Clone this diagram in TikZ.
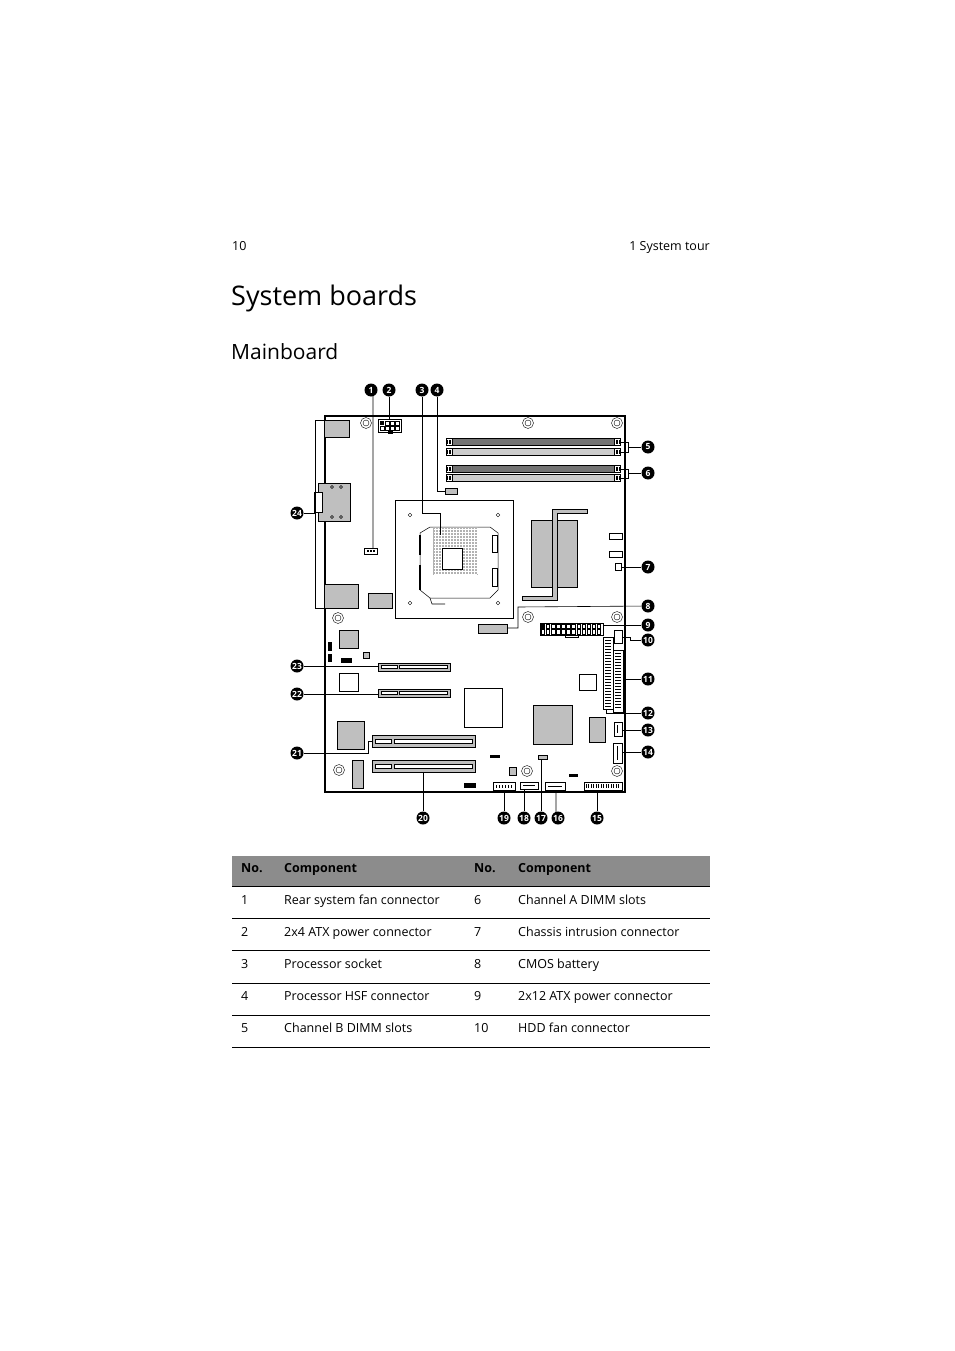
\documentclass[tikz,border=0pt]{standalone}
\usepackage{fontspec}
\setmainfont{Open Sans}
\begin{document}
\begin{tikzpicture}[x=1pt,y=-1pt,
 co/.style={circle,fill=black,text=white,inner sep=0pt,minimum size=13pt,font=\bfseries\fontsize{8.5}{9}\selectfont},
 gb/.style={draw=black,line width=0.5pt,fill=black!25},
 wb/.style={draw=black,line width=0.5pt,fill=white},
 kb/.style={fill=black},
 ld/.style={line width=0.6pt},
 hole/.style={draw,line width=0.4pt},
 tx/.style={anchor=base west,inner sep=0pt,font=\fontsize{12.5}{14}\selectfont},
 th/.style={anchor=base west,inner sep=0pt,font=\bfseries\fontsize{12.5}{14}\selectfont}]
\useasboundingbox (0,0) rectangle (954,1351);
% header
\node[tx] (pg) at (232,250) {10};
\node[tx,anchor=base east] (ch) at (710,250) {1 System tour};
\node[anchor=base west,inner sep=0pt,font=\fontsize{27}{30}\selectfont] (t1) at (231,305) {System boards};
\node[anchor=base west,inner sep=0pt,font=\fontsize{21}{24}\selectfont] (t2) at (231,359) {Mainboard};
% board outline
\draw[line width=1.6pt] (325,416) -- (625,416) -- (625,792) -- (325,792) -- cycle;
% holes
\foreach \x/\y in {366/423,528/423,617/423,338/618,528/617,617/617,339/770,527/771,617/771}{
 \draw[hole] (\x,\y) circle (5.5); \draw[hole] (\x,\y) circle (3);}
% left I/O
\fill[gb] (324,420) rectangle (349,437);
\draw[gb] (318,483) rectangle (350,521);
\draw[wb] (314,492) rectangle (322,512);
\foreach \x in {332,341}{\draw[hole] (\x,487) circle (1.5); \draw[hole] (\x,517) circle (1.5);}
\draw[gb] (324,584) rectangle (358,608);
\draw[gb] (368,593) rectangle (392,608);
% atx 2x4
\draw[wb] (378,419) rectangle (401,432);
\fill (380,421) rectangle (384,425);
\foreach \x in {385,390,395}{\draw (\x,421) rectangle (\x+4,425);}
\foreach \x in {380,385,390,395}{\draw (\x,426) rectangle (\x+4,430);}
\fill (388,431) rectangle (393,434);
% DIMM
\foreach \y/\c in {438/55,448/20,465/55,474/20}{
 \draw[draw=black,fill=black!\c] (452,\y) rectangle (614,\y+7);
 \draw[wb] (446,\y) rectangle (452,\y+7);
 \draw[wb] (614,\y) rectangle (620,\y+7);
 \foreach \k in {447.5,449,450.5}{\draw[line width=0.3pt] (\k,\y+1.5)--(\k,\y+5.5);}
 \foreach \k in {616,617.5,619}{\draw[line width=0.3pt] (\k,\y+1.5)--(\k,\y+5.5);}}
% fan connectors
\draw[gb] (445,488) rectangle (457,494);
\draw[wb] (364,548) rectangle (377,554);
\foreach \x in {367,370,373}{\fill (\x,550) rectangle (\x+1.5,552);}
% CPU area
\draw[wb] (395,500) rectangle (513,618);
\foreach \x/\y in {410/515,498/515,410/603,498/603}{\draw[hole] (\x,\y) circle (1.8);}
\draw[line width=0.5pt] (420,533) -- (430,527) -- (490,527) -- (498,533) -- (498,590) -- (490,598) -- (430,598) -- (420,590) -- cycle;
\fill[black!30] (433,527) rectangle (478,575);
\foreach \k in {435,438,...,477}{\draw[white,line width=0.4pt] (\k,528)--(\k,574);}
\foreach \k in {529,532,...,574}{\draw[white,line width=0.4pt] (434,\k)--(477,\k);}
\draw[wb] (442,548) rectangle (462,569);
\draw[line width=1.2pt] (420,535)--(420,555) (420,565)--(420,590);
\draw[wb] (492,535) rectangle (497,552);
\draw[wb] (492,568) rectangle (497,586);
\draw[line width=0.6pt] (430,598) -- (432,604) -- (445,604);
% heatsink & L-bar
\draw[gb] (531,520) rectangle (577,587);
\draw[gb] (552,509) -- (587,509) -- (587,513) -- (557,513) -- (557,600) -- (522,600) -- (522,596) -- (552,596) -- cycle;
% right small connectors
\draw[wb] (609,533) rectangle (622,539);
\draw[wb] (609,551) rectangle (622,557);
\draw[wb] (615,563) rectangle (621,570);
% battery, atx 2x12
\draw[gb] (478,624) rectangle (507,633);
\draw[wb] (540,623) rectangle (603,635);
\foreach \i in {0,...,11}{\draw[line width=0.4pt] (541+\i*5.1,624) rectangle (544.5+\i*5.1,628.5);
 \draw[line width=0.4pt] (541+\i*5.1,629.5) rectangle (544.5+\i*5.1,634);}
\fill (541,624) rectangle (544.5,628.5);
\draw (565,635) -- (565,637) -- (578,637) -- (578,635);
\draw[wb] (614,630) rectangle (622,643);
% IDE
\draw[wb] (603,637) rectangle (613,709);
\draw[wb] (613,650) rectangle (623,712);
\foreach \y in {640,643,...,706}{\draw[line width=0.3pt] (605,\y)--(611,\y);}
\foreach \y in {653,656,...,709}{\draw[line width=0.3pt] (615,\y)--(621,\y);}
% SATA
\draw[wb] (614,722) rectangle (622,736); \draw (617,725)--(617,733);
\draw[wb] (613,743) rectangle (622,763); \draw (617,746)--(617,760);
% bottom connectors
\draw[wb] (584,782) rectangle (622,790);
\foreach \x in {586,588.5,...,619}{\draw[line width=0.5pt] (\x,784)--(\x,788);}
\draw[wb] (545,782) rectangle (565,790); \draw (548,786)--(562,786);
\draw[wb] (520,782) rectangle (538,789); \draw (523,785.5)--(535,785.5);
\draw[wb] (493,782) rectangle (515,790);
\foreach \x in {496,499,502,505,508,511}{\fill (\x,784.5) rectangle (\x+1.3,787.5);}
\draw[gb] (538,755) rectangle (547,759);
% PCI
\foreach \y in {663,689}{\draw[gb] (378,\y) rectangle (450,\y+8); \draw[wb] (381,\y+2.5) rectangle (397,\y+5.5); \draw[wb] (399,\y+2.5) rectangle (447,\y+5.5);}
\foreach \y in {735,760}{\draw[gb] (372,\y) rectangle (475,\y+12); \draw[wb] (375,\y+4) rectangle (391,\y+8); \draw[wb] (394,\y+4) rectangle (472,\y+8);}
% chips
\draw[gb] (339,630) rectangle (358,648);
\draw[gb] (363,652) rectangle (369,658);
\draw[wb] (339,673) rectangle (358,691);
\draw[gb] (337,721) rectangle (364,749);
\draw[gb] (352,760) rectangle (363,788);
\draw[wb] (464,688) rectangle (502,727);
\draw[gb] (533,705) rectangle (572,744);
\draw[wb] (579,674) rectangle (596,690);
\draw[gb] (589,717) rectangle (605,742);
\draw[gb] (509,767) rectangle (516,775);
\fill (490,755) rectangle (500,758);
\fill (569,774) rectangle (578,777);
\fill (464,783) rectangle (476,788);
\fill (341,658) rectangle (352,663);
\fill (328,642) rectangle (332,651); \fill (328,654) rectangle (332,662);
% callouts
\foreach \n/\x/\y in {1/371/390,2/389/390,3/422/390,4/437/390,5/648/447,6/648/473,7/648/567,8/648/606,9/648/625,10/648/640,11/648/679,12/648/713,13/648/730,14/648/752,15/597/818,16/558/818,17/541/818,18/524/818,19/504/818,20/423/818,21/297/753,22/297/694,23/297/666,24/297/513}
 {\node[co] (c\n) at (\x,\y) {\n};}
\coordinate (p1) at (373,548);
\draw[ld] (c1) -- (373,396) -- (p1);
\draw[ld] (c2) -- (389,419);
\draw[ld] (c3) -- (422,513) -- (440,513) -- (440,535);
\draw[ld] (c4) -- (437,491) -- (445,491);
\draw[ld] (620,442) -- (628,442) -- (628,452) -- (620,452) (628,447) -- (c5);
\draw[ld] (620,469) -- (628,469) -- (628,478) -- (620,478) (628,473) -- (c6);
\draw[ld] (621,567) -- (c7);
\draw[ld] (507,628) -- (518,628) -- (518,607) -- (c8);
\draw[ld] (603,625) -- (c9);
\draw[ld] (622,637) -- (630,637) -- (630,640) -- (c10);
\draw[ld] (623,679) -- (c11);
\draw[ld] (606,709) -- (606,713) -- (c12);
\draw[ld] (622,730) -- (c13);
\draw[ld] (622,752) -- (c14);
\draw[ld] (597,790) -- (c15);
\draw[ld] (556,790) -- (556,812) -- (c16);
\draw[ld] (541,759) -- (c17);
\draw[ld] (524,789) -- (c18);
\draw[ld] (504,790) -- (c19);
\draw[ld] (423,772) -- (c20);
\draw[ld] (c21) -- (368,753) -- (368,741) -- (372,741);
\draw[ld] (c22) -- (378,694);
\draw[ld] (c23) -- (378,666);
\draw[ld] (325,420) -- (315,420) -- (315,608) -- (325,608) (315,513) -- (c24);
% table
\fill[black!45] (232,856) rectangle (710,886);
\draw[line width=0.5pt] (232,886) -- (710,886);
\foreach \y in {918,950,983,1015,1047}{\draw[line width=0.5pt] (232,\y) -- (710,\y);}
\node[th] (h1) at (241,872) {No.};
\node[th] (h2) at (284,872) {Component};
\node[th] (h3) at (474,872) {No.};
\node[th] (h4) at (518,872) {Component};
\foreach \i/\y/\a/\b/\c/\d in {1/904/1/Rear system fan connector/6/Channel A DIMM slots,
 2/936/2/2x4 ATX power connector/7/Chassis intrusion connector,
 3/968/3/Processor socket/8/CMOS battery,
 4/1000/4/Processor HSF connector/9/2x12 ATX power connector,
 5/1032/5/Channel B DIMM slots/10/HDD fan connector}{
 \node[tx] (ra\i) at (241,\y) {\a};
 \node[tx] (rb\i) at (284,\y) {\b};
 \node[tx] (rc\i) at (474,\y) {\c};
 \node[tx] (rd\i) at (518,\y) {\d};}
\end{tikzpicture}
\end{document}
